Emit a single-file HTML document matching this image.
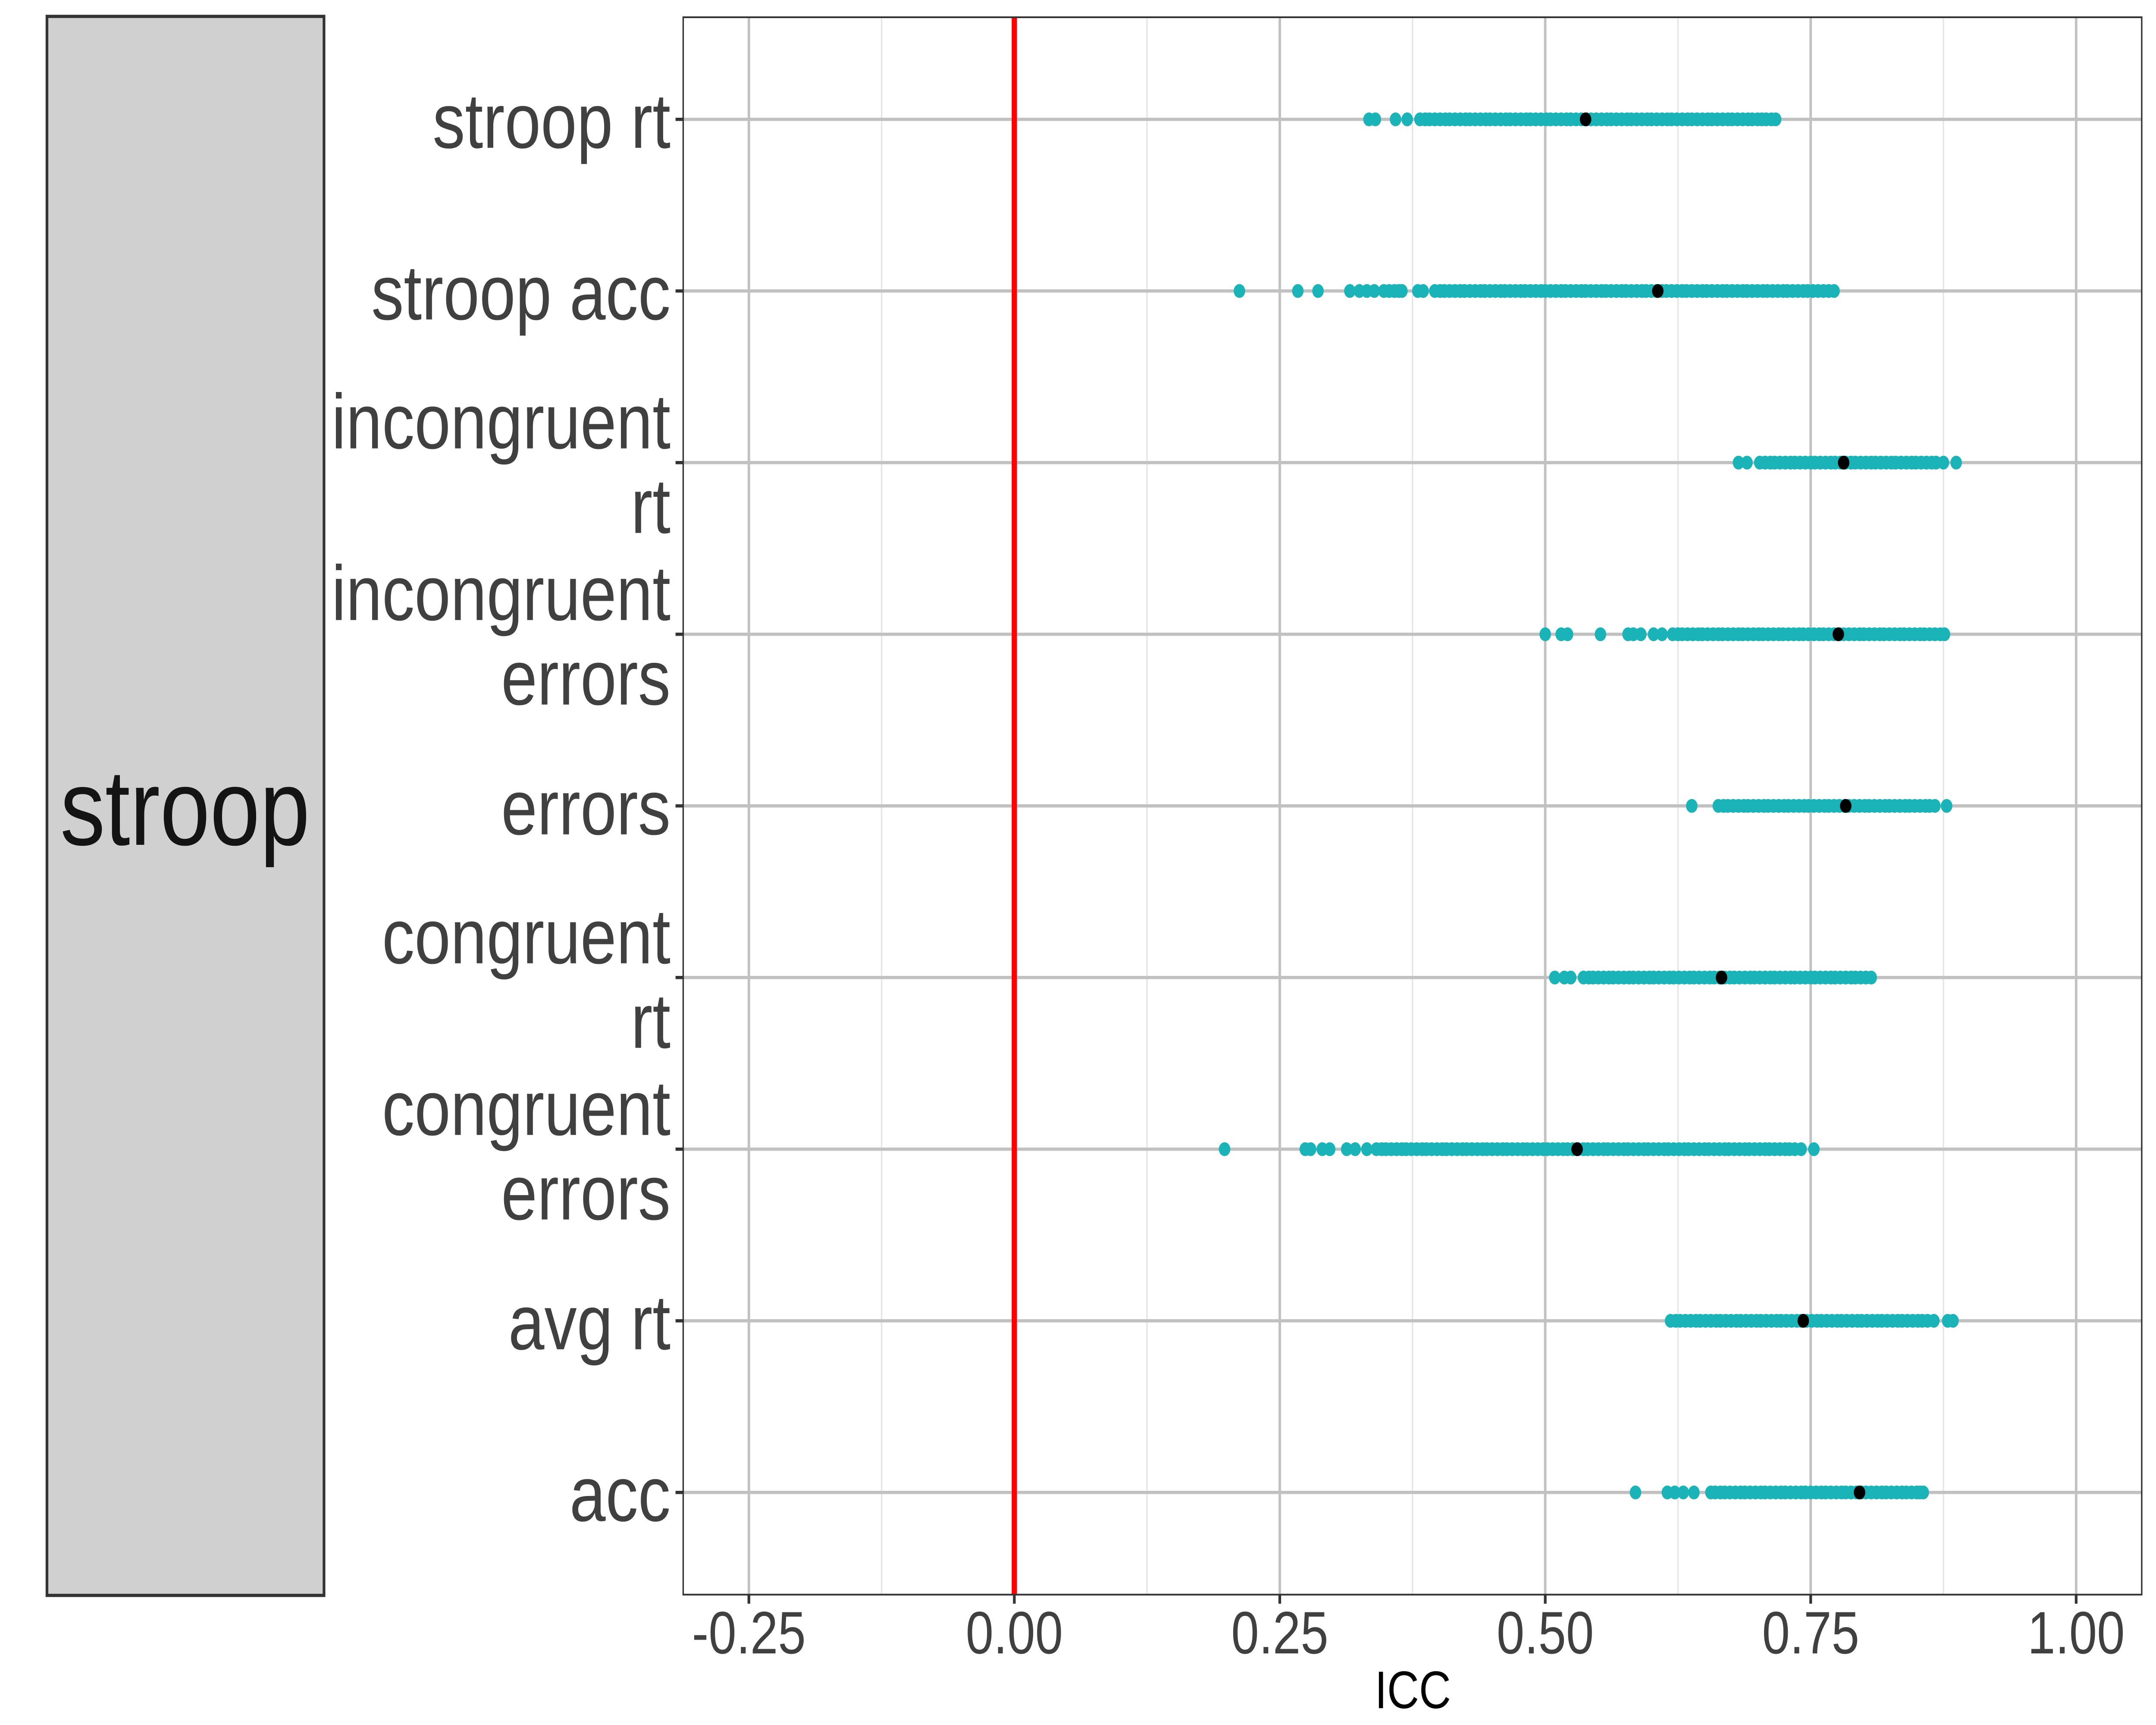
<!DOCTYPE html>
<html lang="en">
<head>
<meta charset="utf-8">
<title>Stroop ICC chart</title>
<style>
html,body{margin:0;padding:0;background:#fff;width:100%;overflow:hidden;}
svg{display:block;width:100%;height:4000px;font-family:"Liberation Sans",Arial,sans-serif;}
</style>
</head>
<body>
<svg id="chart" xmlns="http://www.w3.org/2000/svg" viewBox="0 0 6000 4000" preserveAspectRatio="none">
  <rect x="0" y="0" width="6000" height="4000" fill="#ffffff"/>
  <rect x="130.7" y="38" width="771" height="3661.5" fill="#d0d0d0" stroke="#333333" stroke-width="7.5"/>
  <text x="515" y="1959" font-size="250" fill="#141414" text-anchor="middle">stroop</text>
  <rect x="1901.3" y="40" width="4059" height="3657.7" fill="#ffffff"/>
  <g id="grid"></g>
  <g id="refline"></g>
  <g id="points"></g>
  <g id="medians"></g>
  <rect x="1901.3" y="40" width="4059" height="3657.7" fill="none" stroke="#333333" stroke-width="4"/>
  <g id="axes"></g>
  <text x="3932" y="3961" font-size="123" fill="#000000" text-anchor="middle">ICC</text>
</svg>
<script>
const categories = [
  ["stroop rt"],
  ["stroop acc"],
  ["incongruent","rt"],
  ["incongruent","errors"],
  ["errors"],
  ["congruent","rt"],
  ["congruent","errors"],
  ["avg rt"],
  ["acc"]
];
const xTicks = [-0.25, 0, 0.25, 0.5, 0.75, 1];
const xTickLabels = ["-0.25","0.00","0.25","0.50","0.75","1.00"];
const xMinorTicks = [-0.125, 0.125, 0.375, 0.625, 0.875];
const referenceValue = 0;
const medians = [0.538, 0.606, 0.781, 0.776, 0.783, 0.666, 0.530, 0.743, 0.796];

const stroopRt = [.334,.340,.359,.370,.382,.387,.391,.396,.401,.406,.410,.415,.420,.425,.429,.434,.439,.444,.448,.453,.458,.463,.467,.472,.477,.482,.486,.491,.496,.501,.505,.510,.515,.520,.524,.529,.534,.539,.543,.548,.553,.558,.562,.567,.572,.577,.581,.586,.591,.596,.600,.605,.610,.615,.619,.624,.629,.634,.638,.643,.648,.653,.657,.662,.667,.672,.676,.681,.686,.691,.695,.700,.704,.708,.713,.717];
const stroopAcc = [.212,.267,.286,.316,.325,.332,.339,.348,.353,.358,.362,.365,.380,.385,.396,.401,.405,.410,.415,.420,.424,.429,.434,.439,.443,.448,.453,.458,.462,.467,.472,.477,.481,.486,.491,.496,.500,.505,.510,.515,.519,.524,.529,.534,.538,.543,.548,.553,.557,.562,.567,.572,.576,.581,.586,.591,.595,.600,.605,.610,.614,.619,.624,.629,.633,.638,.643,.648,.652,.657,.662,.667,.671,.676,.681,.686,.690,.695,.700,.705,.709,.714,.719,.724,.728,.733,.738,.743,.747,.752,.757,.762,.767,.772];
const incongruentRt = [.682,.690,.702,.707,.712,.716,.721,.726,.731,.735,.740,.745,.750,.754,.759,.764,.769,.773,.778,.783,.788,.792,.797,.802,.807,.811,.816,.821,.826,.830,.835,.840,.845,.849,.854,.859,.864,.868,.875,.887];
const incongruentErrors = [.500,.515,.521,.552,.578,.583,.590,.602,.610,.620,.625,.629,.634,.639,.644,.648,.653,.658,.663,.667,.672,.677,.682,.686,.691,.696,.701,.705,.710,.715,.720,.724,.729,.734,.739,.743,.748,.753,.758,.762,.767,.772,.777,.781,.786,.791,.796,.800,.805,.810,.815,.819,.824,.829,.834,.838,.843,.848,.853,.857,.862,.867,.872,.876];
const errorsRow = [.638,.663,.668,.672,.677,.682,.687,.691,.696,.701,.706,.710,.715,.720,.725,.729,.734,.739,.744,.748,.753,.758,.763,.767,.772,.777,.782,.786,.791,.796,.801,.805,.810,.815,.820,.824,.829,.834,.839,.843,.848,.853,.858,.862,.867,.878];
const congruentRt = [.509,.518,.524,.536,.541,.545,.550,.555,.560,.564,.569,.574,.579,.583,.588,.593,.598,.602,.607,.612,.617,.621,.626,.631,.636,.640,.645,.650,.655,.659,.664,.669,.674,.678,.683,.688,.693,.697,.702,.707,.712,.716,.721,.726,.731,.735,.740,.745,.750,.754,.759,.764,.769,.773,.778,.783,.788,.792,.797,.802,.807];
const congruentErrors = [.198,.274,.279,.290,.297,.313,.321,.332,.341,.346,.350,.355,.360,.365,.369,.374,.379,.384,.388,.393,.398,.403,.407,.412,.417,.422,.426,.431,.436,.441,.445,.450,.455,.460,.464,.469,.474,.479,.483,.488,.493,.498,.502,.507,.512,.517,.521,.526,.531,.536,.540,.545,.550,.555,.559,.564,.569,.574,.578,.583,.588,.593,.597,.602,.607,.612,.616,.621,.626,.631,.635,.640,.645,.650,.654,.659,.664,.669,.673,.678,.683,.688,.692,.697,.702,.707,.711,.716,.721,.726,.730,.735,.741,.753];
const avgRt = [.618,.623,.627,.632,.637,.642,.646,.651,.656,.661,.665,.670,.675,.680,.684,.689,.694,.699,.703,.708,.713,.718,.722,.727,.732,.737,.741,.746,.751,.756,.760,.765,.770,.775,.779,.784,.789,.794,.798,.803,.808,.813,.817,.822,.827,.832,.836,.841,.846,.851,.855,.860,.866,.879,.884];
const accRow = [.585,.615,.622,.630,.640,.656,.660,.665,.669,.674,.679,.684,.688,.693,.698,.703,.707,.712,.717,.722,.726,.731,.736,.741,.745,.750,.755,.760,.764,.769,.774,.779,.783,.788,.793,.798,.802,.807,.812,.817,.821,.826,.831,.836,.840,.845,.850,.853,.856];
const seriesValues = [stroopRt, stroopAcc, incongruentRt, incongruentErrors, errorsRow, congruentRt, congruentErrors, avgRt, accRow];

const SVG_NS = "http://www.w3.org/2000/svg";
const panelLeft = 1901.3, panelRight = 5960.3, panelTop = 40, panelBottom = 3697.7;
function xScale(v){ return 2822.8 + 2955 * v; }
function yScale(i){ return 276.8 + 398 * i; }
function make(tag, parent, attrs){
  const el = document.createElementNS(SVG_NS, tag);
  for (const k in attrs) el.setAttribute(k, attrs[k]);
  parent.appendChild(el);
  return el;
}
const grid = document.getElementById("grid");
const axes = document.getElementById("axes");
const refline = document.getElementById("refline");
const pointsG = document.getElementById("points");
const mediansG = document.getElementById("medians");

xMinorTicks.forEach(function(t){
  const l = make("line", grid, {x1:xScale(t), x2:xScale(t), y1:panelTop, y2:panelBottom, stroke:"#e4e4e4", "stroke-width":3.75});
  
  
});
xTicks.forEach(function(t){
  const l = make("line", grid, {x1:xScale(t), x2:xScale(t), y1:panelTop, y2:panelBottom, stroke:"#c1c1c1", "stroke-width":7});
  
  
});
categories.forEach(function(c, i){
  const l = make("line", grid, {x1:panelLeft, x2:panelRight, y1:yScale(i), y2:yScale(i), stroke:"#c1c1c1", "stroke-width":7.5});
  
  
});

const ref = make("line", refline, {x1:xScale(referenceValue), x2:xScale(referenceValue), y1:panelTop, y2:panelBottom, stroke:"#ff0000", "stroke-width":14.7});



seriesValues.forEach(function(vals, i){
  vals.forEach(function(v){
    const c = make("circle", pointsG, {cx:xScale(v), cy:yScale(i), r:16, fill:"#19b3b8"});
    
    
  });
});
medians.forEach(function(v, i){
  const c = make("circle", mediansG, {cx:xScale(v), cy:yScale(i), r:16, fill:"#000000"});
  
  
});

xTicks.forEach(function(t, i){
  const l = make("line", axes, {x1:xScale(t), x2:xScale(t), y1:panelBottom, y2:3718.7, stroke:"#333333", "stroke-width":7.5});
  
  
  const tx = make("text", axes, {x:xScale(t), y:3834, "font-size":139, fill:"#404040", "text-anchor":"middle"});
  tx.textContent = xTickLabels[i];
  
  
});
categories.forEach(function(lines, i){
  const l = make("line", axes, {x1:1880, x2:panelLeft, y1:yScale(i), y2:yScale(i), stroke:"#333333", "stroke-width":7.5});
  
  
  const tx = make("text", axes, {"font-size":180.5, fill:"#404040", "text-anchor":"end"});
  
  
  lines.forEach(function(s, j){
    const base = lines.length === 1 ? 66 : -33 + 196 * j;
    const sp = make("tspan", tx, {x:1866, y:yScale(i) + base});
    sp.textContent = s;
  });
});
</script>
</body>
</html>
